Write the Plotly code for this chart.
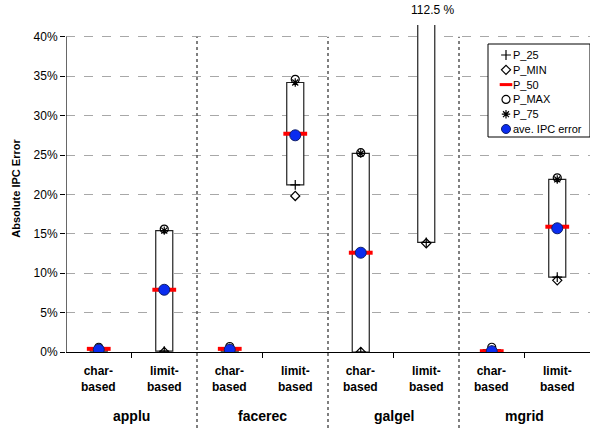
import plotly.graph_objects as go

benchmarks = ["applu", "facerec", "galgel", "mgrid"]
method_labels = ["char-<br>based", "limit-<br>based"]

# values in percent, order: applu char, applu limit, facerec char, facerec limit,
# galgel char, galgel limit, mgrid char, mgrid limit
p_min = [0.0, 0.0, 0.0, 19.8, 0.0, 13.8, 0.0, 9.1]
p_25 = [0.1, 0.1, 0.1, 21.2, 0.0, 13.9, 0.0, 9.5]
p_50 = [0.4, 7.9, 0.4, 27.7, 12.6, 56.0, 0.1, 15.9]
p_75 = [0.5, 15.4, 0.5, 34.2, 25.2, 112.5, 0.3, 21.9]
p_max = [0.6, 15.6, 0.7, 34.6, 25.3, 112.5, 0.6, 22.1]
ave_err = [0.3, 7.9, 0.3, 27.5, 12.6, 60.0, 0.1, 15.7]

yticks = [0, 5, 10, 15, 20, 25, 30, 35, 40]
ytick_text = [f"{v}%" for v in yticks]
outlier_label = "112.5 %"
legend_names = ["P_25", "P_MIN", "P_50", "P_MAX", "P_75", "ave. IPC error"]

FONT = "Liberation Sans, Arial, sans-serif"
xs = [i + 0.5 for i in range(len(p_min))]

styles = {
    "P_25": dict(symbol="cross-thin", size=7, color="black", line=dict(color="black", width=1.2)),
    "P_MIN": dict(symbol="diamond-open", size=7, color="black", line=dict(width=1.2)),
    "P_50": dict(symbol="line-ew", size=17, color="red", line=dict(color="red", width=4)),
    "P_MAX": dict(symbol="circle-open", size=8, color="black", line=dict(width=1.2)),
    "P_75": dict(symbol="asterisk-open", size=7, color="black", line=dict(color="black", width=1.2)),
    "ave. IPC error": dict(symbol="circle", size=11, color="#0a2cf0", line=dict(color="#10206a", width=1)),
}
legend_styles = dict(styles)
legend_styles["P_50"] = dict(symbol="line-ew", size=9, color="red", line=dict(color="red", width=3))
legend_styles["ave. IPC error"] = dict(symbol="circle", size=9, color="#0a2cf0", line=dict(color="#10206a", width=1))
series = {"P_25": p_25, "P_MIN": p_min, "P_50": p_50, "P_MAX": p_max, "P_75": p_75,
          "ave. IPC error": ave_err}

fig = go.Figure()

fig.add_trace(go.Bar(
    x=xs, base=p_25, y=[b - a for a, b in zip(p_25, p_75)],
    width=0.26, marker=dict(color="white", line=dict(color="#222222", width=1.2)),
    showlegend=False, hoverinfo="skip"))

for name in legend_names:
    fig.add_trace(go.Scatter(x=xs, y=series[name], mode="markers", name=name,
                             marker=styles[name], showlegend=False))

# manual legend drawn on a pixel-unit overlay axis
L_LEFT, L_RIGHT, L_TOP, L_BOTTOM = 488, 590, 44, 137
L_SYM_X, L_TXT_X, L_ROW0, L_ROWSTEP = 506, 511, 55, 14.8
fig.add_trace(go.Scatter(
    x=[L_LEFT, L_RIGHT, L_RIGHT, L_LEFT, L_LEFT], y=[L_TOP, L_TOP, L_BOTTOM, L_BOTTOM, L_TOP],
    mode="lines", fill="toself", fillcolor="white", line=dict(color="black", width=1),
    xaxis="x2", yaxis="y2", showlegend=False, hoverinfo="skip", cliponaxis=False))
for i, name in enumerate(legend_names):
    fig.add_trace(go.Scatter(x=[L_SYM_X], y=[L_ROW0 + i * L_ROWSTEP], mode="markers",
                             marker=legend_styles[name], xaxis="x2", yaxis="y2",
                             showlegend=False, hoverinfo="skip", cliponaxis=False))

shapes = []
plot_h = 352 - 25
for gx in [2, 4, 6]:
    shapes.append(dict(type="line", xref="x", yref="paper", x0=gx, x1=gx,
                       y0=-76 / plot_h, y1=40 / 41.5,
                       line=dict(color="#555555", width=1.5, dash="dot")))
shapes.append(dict(type="line", xref="x", yref="y", x0=0, x1=0, y0=0, y1=40,
                   line=dict(color="black", width=1.2)))

annotations = []
for i, x in enumerate(xs):
    annotations.append(dict(x=x, xref="x", y=-(362 - 352) / plot_h, yref="paper",
                            text="<b>" + method_labels[i % 2] + "</b>", showarrow=False,
                            yanchor="top", font=dict(family=FONT, size=12, color="black")))
for g, name in enumerate(benchmarks):
    annotations.append(dict(x=2 * g + 1, xref="x", y=-(416 - 352) / plot_h, yref="paper",
                            text="<b>" + name + "</b>", showarrow=False, yanchor="middle",
                            font=dict(family=FONT, size=14, color="black")))
annotations.append(dict(x=5.6, xref="x", y=(352 - 10) / plot_h, yref="paper",
                        text=outlier_label, showarrow=False, yanchor="middle",
                        font=dict(family=FONT, size=12, color="black")))
for i, name in enumerate(legend_names):
    annotations.append(dict(x=L_TXT_X, xref="x2", y=L_ROW0 + i * L_ROWSTEP, yref="y2",
                            text=name, showarrow=False, xanchor="left", yanchor="middle",
                            font=dict(family=FONT, size=11, color="black")))

fig.update_layout(
    width=595, height=428,
    margin=dict(l=66, r=5, t=25, b=76),
    plot_bgcolor="white", paper_bgcolor="white",
    font=dict(family=FONT, size=12, color="black"),
    barmode="overlay", showlegend=False,
    shapes=shapes, annotations=annotations,
    xaxis=dict(range=[0, 8], tickvals=[1, 3, 5, 7], showticklabels=False,
               ticks="outside", ticklen=5, tickcolor="black", showgrid=False,
               showline=True, linecolor="black", linewidth=1.2, zeroline=False),
    yaxis=dict(range=[0, 41.5], tickvals=yticks, ticktext=ytick_text,
               ticks="outside", ticklen=5, tickcolor="black",
               showgrid=True, gridcolor="#a8a8a8", griddash="dash", gridwidth=1,
               showline=False, zeroline=False,
               title=dict(text="<b>Absolute IPC Error</b>", font=dict(family=FONT, size=11), standoff=10),
               tickfont=dict(family=FONT, size=12)),
    xaxis2=dict(overlaying="x", range=[66, 590], visible=False, fixedrange=True),
    yaxis2=dict(overlaying="y", range=[352, 25], visible=False, fixedrange=True),
)

fig.write_html("out.html")
